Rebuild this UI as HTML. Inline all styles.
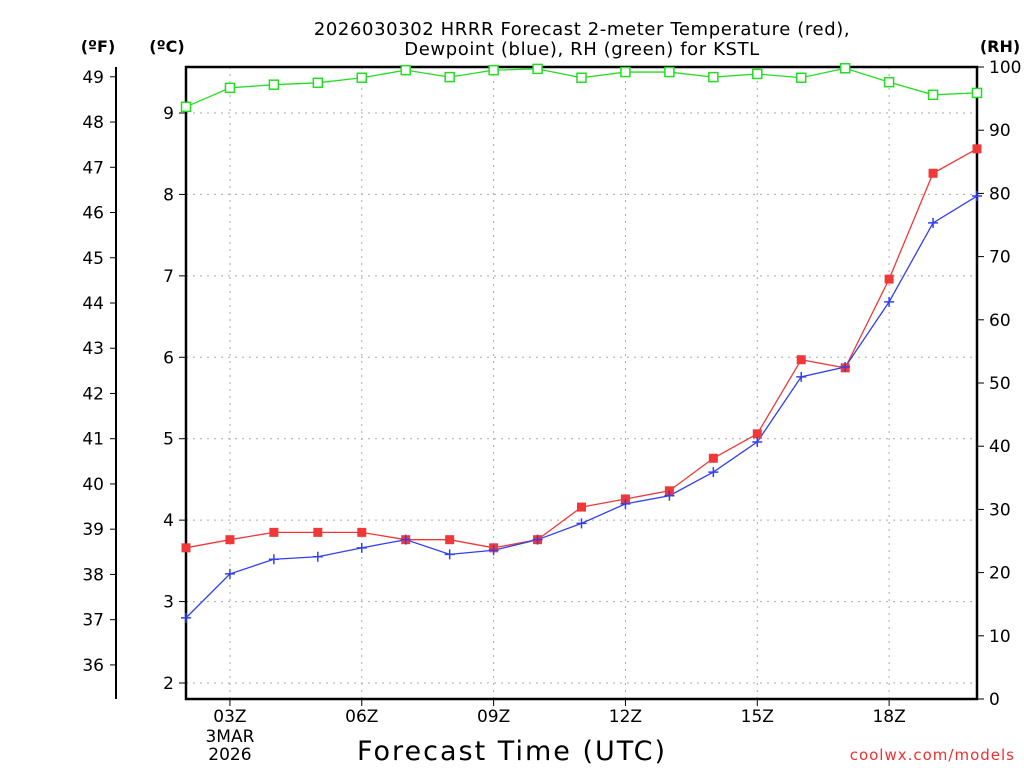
<!DOCTYPE html>
<html><head><meta charset="utf-8"><style>
html,body{margin:0;padding:0;background:#fff;}
svg{display:block;font-family:"DejaVu Sans","Liberation Sans",sans-serif;}
</style></head><body>
<svg id="chart" width="1024" height="768" viewBox="0 0 1024 768" xmlns="http://www.w3.org/2000/svg">
<rect width="1024" height="768" fill="#fff"/>
<text x="582" y="35" font-size="18" text-anchor="middle" fill="#000" letter-spacing="0.6">2026030302 HRRR Forecast 2-meter Temperature (red),</text>
<text x="582" y="55" font-size="18" text-anchor="middle" fill="#000" letter-spacing="0.6">Dewpoint (blue), RH (green) for KSTL</text>
<text x="98" y="52" font-size="16" font-weight="bold" text-anchor="middle">(ºF)</text>
<text x="167" y="52" font-size="16" font-weight="bold" text-anchor="middle">(ºC)</text>
<text x="1000" y="52" font-size="16" font-weight="bold" text-anchor="middle">(RH)</text>
<text x="512" y="760" font-size="27" text-anchor="middle" letter-spacing="2">Forecast Time (UTC)</text>
<text x="1015" y="760" font-size="15" text-anchor="end" fill="#f03030" letter-spacing="1">coolwx.com/models</text>
<g id="grid"></g><g id="axes"></g><g id="series"></g>
</svg>
<script>
const hours = [2,3,4,5,6,7,8,9,10,11,12,13,14,15,16,17,18,19,20];
const tempC = [3.66,3.76,3.85,3.85,3.85,3.76,3.76,3.66,3.76,4.16,4.26,4.36,4.76,5.06,5.97,5.87,6.96,8.26,8.56];
const dewC = [2.80,3.34,3.52,3.55,3.66,3.76,3.58,3.63,3.76,3.96,4.20,4.30,4.59,4.96,5.76,5.88,6.68,7.65,7.98];
const rh = [93.7,96.7,97.2,97.5,98.3,99.5,98.4,99.5,99.7,98.3,99.2,99.2,98.4,98.9,98.3,99.8,97.6,95.6,95.9];
const cTicks = [2,3,4,5,6,7,8,9];
const fTicks = [36,37,38,39,40,41,42,43,44,45,46,47,48,49];
const rhTicks = [0,10,20,30,40,50,60,70,80,90,100];
const xTicks = [3,6,9,12,15,18];
const xLabels = ["03Z","06Z","09Z","12Z","15Z","18Z"];

const L=186,R=977,T=67,B=699;
const x = h => L + (h-2)*(R-L)/18;
const yC = c => 683 - (c-2)*81.43;
const yF = f => yC((f-32)*5/9);
const yRH = v => B - v*(B-T)/100;
const NS="http://www.w3.org/2000/svg";
function mk(tag, attrs, parent, txt){const e=document.createElementNS(NS,tag);for(const k in attrs)e.setAttribute(k,attrs[k]);if(txt!==undefined)e.textContent=txt;parent.appendChild(e);return e;}
const grid=document.getElementById('grid'), axes=document.getElementById('axes'), ser=document.getElementById('series');
cTicks.forEach(c=>{
  const g=mk('line',{x1:L,x2:R,y1:yC(c),y2:yC(c),stroke:'#aaa','stroke-dasharray':'2,5'},grid);
  
  
  mk('line',{x1:L-7,x2:L,y1:yC(c),y2:yC(c),stroke:'#000'},axes);
  const t=mk('text',{x:L-12,y:yC(c)+6,'font-size':17,'text-anchor':'end'},axes,c);
  
  
});
xTicks.forEach((h,i)=>{
  const g=mk('line',{x1:x(h),x2:x(h),y1:T,y2:B,stroke:'#aaa','stroke-dasharray':'2,5'},grid);
  
  
  mk('line',{x1:x(h),x2:x(h),y1:B,y2:B+7,stroke:'#000'},axes);
  const t=mk('text',{x:x(h),y:B+23,'font-size':17,'text-anchor':'middle'},axes,xLabels[i]);
  
  
});
const d1=mk('text',{x:x(3),y:B+43,'font-size':17,'text-anchor':'middle'},axes,'3MAR');


const d2=mk('text',{x:x(3),y:B+61,'font-size':17,'text-anchor':'middle'},axes,'2026');


const fr=mk('rect',{x:L,y:T,width:R-L,height:B-T,fill:'none',stroke:'#000','stroke-width':2.5},axes);


mk('line',{x1:116,x2:116,y1:T,y2:B,stroke:'#000','stroke-width':2},axes);
fTicks.forEach(f=>{
  mk('line',{x1:110,x2:116,y1:yF(f),y2:yF(f),stroke:'#000'},axes);
  const t=mk('text',{x:104,y:yF(f)+6,'font-size':17,'text-anchor':'end'},axes,f);
  
  
});
rhTicks.forEach(v=>{
  mk('line',{x1:R,x2:R+7,y1:yRH(v),y2:yRH(v),stroke:'#000'},axes);
  const t=mk('text',{x:R+12,y:yRH(v)+6,'font-size':17,'text-anchor':'start'},axes,v);
  
  
});
function line(vals,yf,col,name){
  const p=mk('polyline',{points:vals.map((v,i)=>x(hours[i])+','+yf(v)).join(' '),fill:'none',stroke:col,'stroke-width':1.3},ser);
  
  
}
line(rh,yRH,'#22dd22','rh-line');
line(tempC,yC,'#f03838','temperature-line');
line(dewC,yC,'#3040f0','dewpoint-line');
rh.forEach((v,i)=>{
  const m=mk('rect',{x:x(hours[i])-4.5,y:yRH(v)-4.5,width:9,height:9,fill:'#fff',stroke:'#22dd22','stroke-width':1.5},ser);
  
  
});
tempC.forEach((v,i)=>{
  const m=mk('rect',{x:x(hours[i])-4.5,y:yC(v)-4.5,width:9,height:9,fill:'#f03838'},ser);
  
  
});
dewC.forEach((v,i)=>{
  const cx=x(hours[i]),cy=yC(v);
  const m=mk('path',{d:`M${cx-5},${cy}H${cx+5}M${cx},${cy-5}V${cy+5}`,stroke:'#3040f0','stroke-width':1.5},ser);
  
  
});
</script>
</body></html>
